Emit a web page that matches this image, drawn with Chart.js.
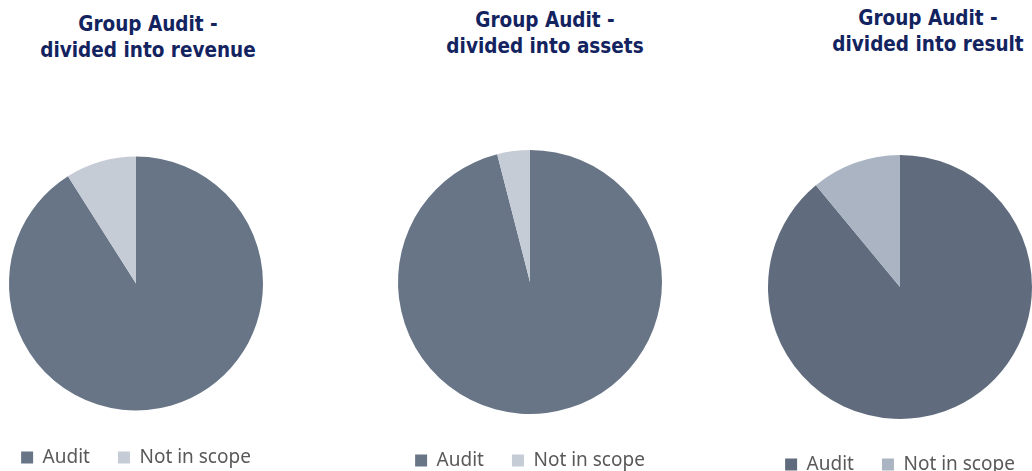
<!DOCTYPE html>
<html>
<head>
<meta charset="utf-8">
<script src="https://cdn.jsdelivr.net/npm/chart.js@4"></script>
<style>
    html, body { margin: 0; padding: 0; background: #fff; }
    body { width: 1032px; height: 471px; position: relative; overflow: hidden; }
    .box { position: absolute; top: 0; width: 300px; }
    .title {
        position: absolute; width: 320px; text-align: center;
        font-family: "DejaVu Sans Condensed", "DejaVu Sans", sans-serif; font-weight: bold;
        font-size: 20.5px; line-height: 26px; color: #13235f;
        white-space: nowrap;
    }
</style>
</head>
<body>
<div class="title" style="left: -12px; top: 11px;">Group Audit -<br>divided into revenue</div>
<div class="title" style="left: 385px; top: 7px;">Group Audit -<br>divided into assets</div>
<div class="title" style="left: 768px; top: 5px;">Group Audit -<br>divided into result</div>

<div class="box" style="left: -14px; height: 477px;"><canvas id="pieRevenue"></canvas></div>
<div class="box" style="left: 380px; height: 480px;"><canvas id="pieAssets"></canvas></div>
<div class="box" style="left: 750px; height: 484px;"><canvas id="pieResult"></canvas></div>

<script>
// Data (share in %)
const labels = ['Audit', 'Not in scope'];
const revenueShare = [91, 9];
const assetsShare = [96, 4];
const resultShare = [89, 11];

// Colours
const coloursLight = ['#687587', '#c5ccd6'];
const coloursDark = ['#606c7d', '#aab4c2'];

function makePie(id, values, colours, radius, topPad) {
    const ctx = document.getElementById(id).getContext('2d');
    return new Chart(ctx, {
        type: 'pie',
        data: {
            labels: labels,
            datasets: [{
                data: values,
                backgroundColor: colours,
                borderWidth: 0,
                radius: radius
            }]
        },
        options: {
            responsive: true,
            maintainAspectRatio: false,
            animation: false,
            layout: { padding: { top: topPad } },
            plugins: {
                tooltip: { enabled: false },
                legend: {
                    position: 'bottom',
                    labels: {
                        boxWidth: 12,
                        boxHeight: 12,
                        padding: 28,
                        color: '#595959',
                        font: { family: '"Noto Sans", sans-serif', size: 19 }
                    }
                }
            }
        }
    });
}

const revenueChart = makePie('pieRevenue', revenueShare, coloursLight, 127, 147);
const assetsChart = makePie('pieAssets', assetsShare, coloursLight, 132, 141);
const resultChart = makePie('pieResult', resultShare, coloursDark, 132, 147);
</script>
</body>
</html>
